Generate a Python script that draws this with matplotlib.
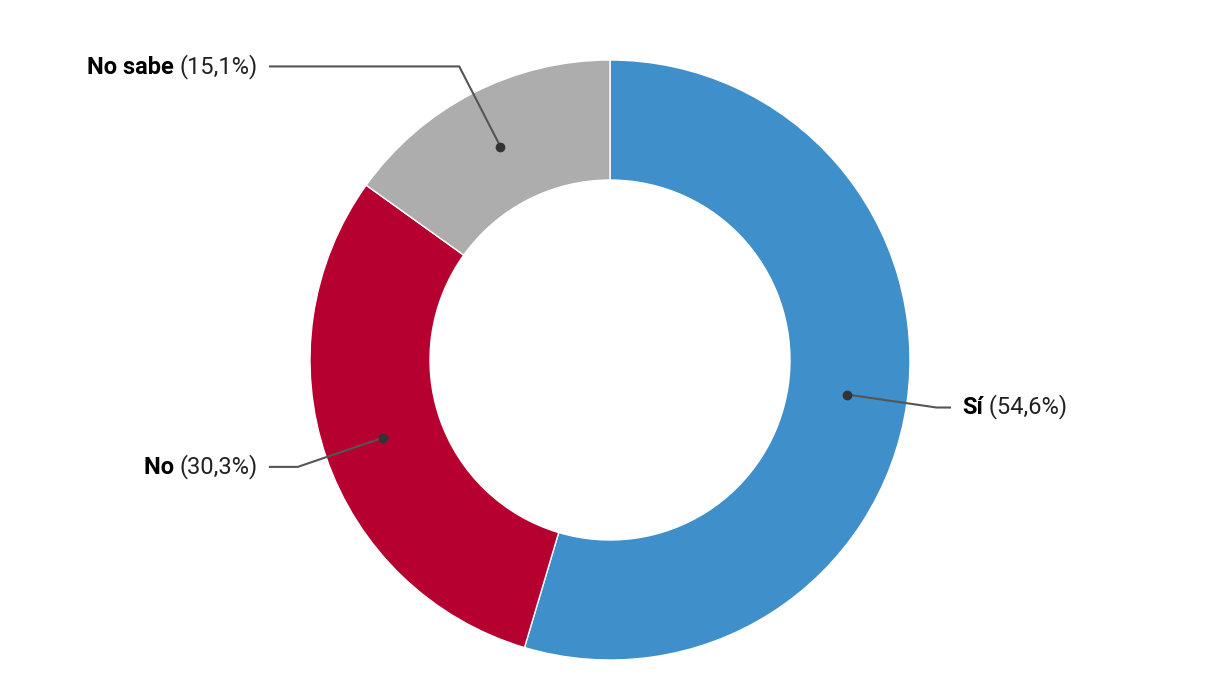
import numpy as np
import matplotlib.pyplot as plt

labels = ['Sí', 'No', 'No sabe']
valores = [54.6, 30.3, 15.1]
colores = ['#3f8fca', '#b50030', '#adadad']

plt.rcParams['font.family'] = ['Roboto', 'DejaVu Sans']

W, H = 1220, 700
fig = plt.figure(figsize=(W / 100, H / 100), dpi=100)
ax = fig.add_axes([0, 0, 1, 1])

cx, cy = 610, 340
r_ext = 300
ancho = 120

wedges, _ = ax.pie(valores, colors=colores, startangle=90, counterclock=False,
                   center=(cx, cy), radius=r_ext, frame=True,
                   wedgeprops=dict(width=ancho, edgecolor='white', linewidth=1))
ax.set_xlim(0, W)
ax.set_ylim(0, H)
ax.set_aspect('equal')
ax.axis('off')

r_punto = r_ext - ancho / 2
r_codo = 330
fs = 17
for w, lab, val in zip(wedges, labels, valores):
    ang = np.deg2rad((w.theta1 + w.theta2) / 2)
    px, py = cx + r_punto * np.cos(ang), cy + r_punto * np.sin(ang)
    ex, ey = cx + r_codo * np.cos(ang), cy + r_codo * np.sin(ang)
    derecha = np.cos(ang) >= 0
    fx = cx + 340 if derecha else cx - 340
    tx = fx + 12 if derecha else fx - 12
    ax.plot([px, ex, fx], [py, ey, ey], color='#555555', lw=1.5, zorder=3)
    ax.plot(px, py, 'o', color='#333333', ms=6, zorder=4)
    pct = f'({val:.1f}%)'.replace('.', ',')
    if derecha:
        t = ax.text(tx, ey, lab, ha='left', va='center', fontsize=fs,
                    fontweight='bold', color='black')
        ax.annotate(' ' + pct, xycoords=t, xy=(1, 0), va='bottom', ha='left',
                    fontsize=fs, color='#222222')
    else:
        t = ax.text(tx, ey, pct, ha='right', va='center', fontsize=fs,
                    color='#222222')
        ax.annotate(lab + ' ', xycoords=t, xy=(0, 0), va='bottom', ha='right',
                    fontsize=fs, fontweight='bold', color='black')

fig.savefig('out.png', dpi=100)
